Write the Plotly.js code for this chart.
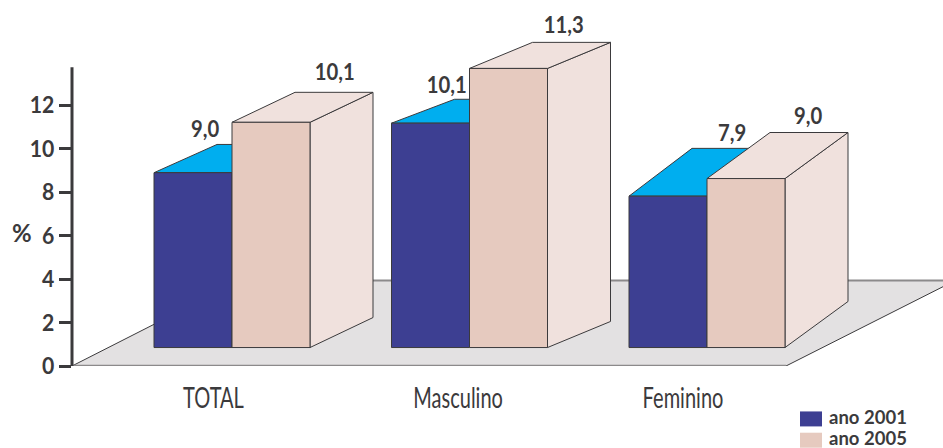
<!DOCTYPE html>
<html>
<head>
<meta charset="utf-8">
<script src="https://cdn.plot.ly/plotly-3.0.1.min.js"></script>
<style>html,body{margin:0;padding:0;background:#fff}#chart{width:943px;height:448px}</style>
</head>
<body>
<div id="chart"></div>
<script>
// Data
const categories = ["TOTAL", "Masculino", "Feminino"];
const seriesNames = ["ano 2001", "ano 2005"];
const groupPositions = [0, 1, 2];
// Bar tops as read against the % axis
const top2001 = [8.9, 11.18, 7.82];
const top2005 = [11.22, 13.7, 8.63];
// Printed value labels
const labels2001 = ["9,0", "10,1", "7,9"];
const labels2005 = ["10,1", "11,3", "9,0"];
const yTicks = [0, 2, 4, 6, 8, 10, 12];
// Depth of the drawn extrusion, per group, in axis units
const depth2001 = [1.3, 1.1, 2.2];
const depth2005 = [1.38, 1.2, 2.12];
// Label anchors
const categoryLabelX = [-0.078, 0.952, 1.899];
const labelX2001 = [-0.115, 0.905, 2.105];
const labelY2001 = [10.97, 13, 10.78];
const labelX2005 = [0.43, 1.395, 2.427];
const labelY2005 = [13.6, 15.75, 11.57];

// Layout constants
const W = 943, H = 448;
const marginL = 72, marginB = 81.5;
const plotW = W - marginL, plotH = H - marginB;
const pxPerX = 237.5, pxPerY = 21.75;
const xMin = (marginL - 232) / pxPerX;
const xMax = xMin + plotW / pxPerX;
const yMax = plotH / pxPerY;
const barWidth = 78 / pxPerX;
const baseY = 0.85;
const depthX = 63 / pxPerX;

const C = {navy: "#3d3f92", pink: "#e6cabf", side: "#f0e1dd", cyan: "#00aeef",
           floor: "#e3e1e2", ink: "#3b3a3c", grey: "#8c8a8b"};
const FONT = "Lato, 'Open Sans', sans-serif";

function poly(pts, fill, line) {
  const path = pts.map((p, i) => (i ? "L" : "M") + p[0] + "," + p[1]).join(" ") + " Z";
  return {type: "path", xref: "x", yref: "y", layer: "below", path: path,
          fillcolor: fill, line: line || {color: C.ink, width: 1}};
}
function seg(x0, y0, x1, y1, color, width) {
  return {type: "line", xref: "x", yref: "y", layer: "below", x0, y0, x1, y1,
          line: {color, width}};
}

const shapes = [];
// Floor
const floorY = (366.5 - 281) / pxPerY;
const floorBackL = (240 - 232) / pxPerX;
const floorFrontR = (786 - 232) / pxPerX;
const floorBackR = (955 - 232) / pxPerX;
shapes.push(poly([[xMin, 0], [floorFrontR, 0], [floorBackR, floorY], [floorBackL, floorY]],
                 C.floor, {width: 0}));
shapes.push(seg(xMin, 0, floorBackL, floorY, C.ink, 1));
shapes.push(seg(floorFrontR, 0, floorBackR, floorY, C.ink, 1));
shapes.push(seg(xMin, 0, floorFrontR, 0, C.grey, 2.5));
shapes.push(seg(floorBackL, floorY, floorBackR, floorY, C.grey, 2));

// 2001 top faces
groupPositions.forEach((g, i) => {
  const l = g - barWidth, r = g, t = top2001[i], d = depth2001[i];
  shapes.push(poly([[l, t], [r, t], [r + depthX, t + d], [l + depthX, t + d]], C.cyan));
});
// 2005 side and top faces
groupPositions.forEach((g, i) => {
  const l = g, r = g + barWidth, t = top2005[i], d = depth2005[i];
  shapes.push(poly([[r, baseY], [r + depthX, baseY + d], [r + depthX, t + d], [r, t]], C.side));
  shapes.push(poly([[l, t], [r, t], [r + depthX, t + d], [l + depthX, t + d]], C.side));
});

// Value axis line
shapes.push({type: "line", xref: "paper", yref: "y", x0: 0, x1: 0, y0: -0.05, y1: 13.75,
             line: {color: C.ink, width: 3}});

const data = [
  {type: "bar", name: seriesNames[0], x: groupPositions, y: top2001.map(v => v - baseY), base: baseY,
   marker: {color: C.navy, line: {color: C.ink, width: 1}}, hoverinfo: "skip"},
  {type: "bar", name: seriesNames[1], x: groupPositions, y: top2005.map(v => v - baseY), base: baseY,
   marker: {color: C.pink, line: {color: C.ink, width: 1}}, hoverinfo: "skip"}
];

const annotations = [];
function valueLabel(x, y, text) {
  annotations.push({x, y, xref: "x", yref: "y", text: "<b>" + text + "</b>", showarrow: false,
    xanchor: "center", yanchor: "middle", captureevents: false,
    font: {family: FONT, size: 23, color: C.ink}});
}
labels2001.forEach((t, i) => valueLabel(labelX2001[i], labelY2001[i], t));
labels2005.forEach((t, i) => valueLabel(labelX2005[i], labelY2005[i], t));
// % marker
annotations.push({xref: "paper", x: (22 - marginL) / plotW, yref: "y", y: 6.14,
  text: "<b>%</b>", showarrow: false, xanchor: "center", yanchor: "middle",
  font: {family: FONT, size: 24, color: C.ink}});

// Legend key
seriesNames.forEach((name, i) => {
  const top = 412 + i * 21.3, bottom = top + 15;
  const py = v => (H - marginB - v) / plotH;
  shapes.push({type: "rect", xref: "paper", yref: "paper",
    x0: (800 - marginL) / plotW, x1: (822 - marginL) / plotW, y0: py(bottom), y1: py(top),
    fillcolor: i ? C.pink : C.navy, line: {width: 0}});
  annotations.push({xref: "paper", yref: "paper", x: (827 - marginL) / plotW, y: py(top + 5.5),
    text: "<b>" + name + "</b>", showarrow: false, xanchor: "left", yanchor: "middle",
    font: {family: FONT, size: 18.5, color: C.ink}});
});

const layout = {
  width: W, height: H,
  margin: {l: marginL, r: 0, t: 0, b: marginB, pad: 0},
  paper_bgcolor: "#fff", plot_bgcolor: "rgba(0,0,0,0)",
  showlegend: false,
  barmode: "group", bargap: 1 - 2 * barWidth, bargroupgap: 0,
  xaxis: {range: [xMin, xMax], tickmode: "array", tickvals: categoryLabelX, ticktext: categories,
          showgrid: false, zeroline: false, showline: false, ticks: "", ticklen: 0,
          ticklabelstandoff: 12,
          tickfont: {family: FONT, size: 29, color: C.ink}},
  yaxis: {range: [0, yMax], tickmode: "array", tickvals: yTicks, ticktext: yTicks.map(String),
          showgrid: false, zeroline: false, showline: false, ticks: "outside", ticklen: 12,
          tickwidth: 3, tickcolor: C.ink,
          tickfont: {family: FONT, size: 23, color: C.ink, weight: 700}},
  shapes, annotations,
  font: {family: FONT}
};

// The reference's typeface is condensed: narrow the real text elements to suit.
function narrow(t, factor) {
  const w = t.getComputedTextLength();
  if (w > 0) {
    t.setAttribute("textLength", (w * factor).toFixed(1));
    t.setAttribute("lengthAdjust", "spacingAndGlyphs");
  }
}
Plotly.newPlot("chart", data, layout, {staticPlot: true, displayModeBar: false}).then(() => {
  document.querySelectorAll(".xtick text").forEach(t => narrow(t, 0.69));
  document.querySelectorAll(".ytick text").forEach(t => narrow(t, 0.92));
  document.querySelectorAll(".annotation-text").forEach(t => {
    if (/^\d+,\d$/.test(t.textContent)) narrow(t, 0.88);
  });
});
</script>
</body>
</html>
